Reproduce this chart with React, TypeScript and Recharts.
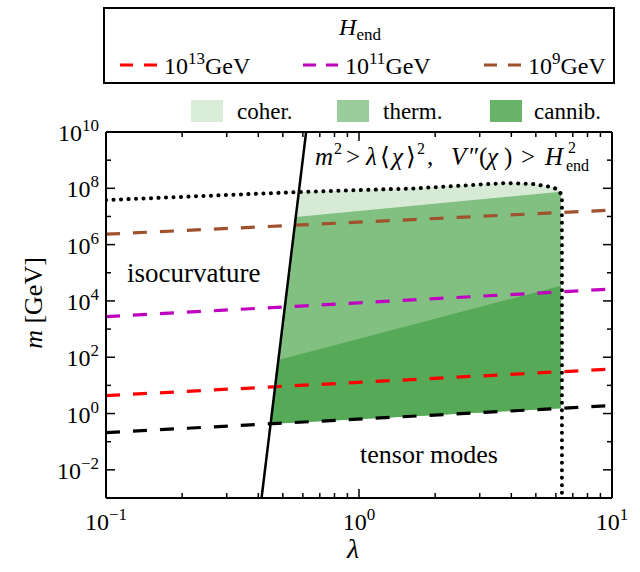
import React from "react";
import { ComposedChart, Area, Line, XAxis, YAxis } from "recharts";

const FONT = "Liberation Serif, DejaVu Serif, serif";

// axis ticks
const X_TICKS = [0.1, 0.2, 0.3, 0.4, 0.5, 0.6, 0.7, 0.8, 0.9, 1, 2, 3, 4, 5, 6, 7, 8, 9, 10];
const Y_TICKS = [1e-3, 1e-2, 1e-1, 1, 1e1, 1e2, 1e3, 1e4, 1e5, 1e6, 1e7, 1e8, 1e9, 1e10];

// dashed H_end lines (left / right end of the lambda range)
const lamEnds = [0.1, 10];
const tensorM = [0.211, 1.92];
const hend13M = [4.33, 38.1];
const hend11M = [2770, 26500];
const hend9M = [2.34e6, 1.69e7];

// solid steep boundary
const wallLam = [0.412, 0.618];
const wallM = [1e-3, 1e10];

// dotted boundary
const dotLam = [0.1, 0.581, 1.69, 3.0, 3.84, 4.87, 5.78, 6.17, 6.34, 6.34];
const dotM = [3.84e7, 7.39e7, 1.0e8, 1.36e8, 1.54e8, 1.42e8, 1.11e8, 8.7e7, 5.3e7, 1e-3];

// filled regions: lambda, lower m, upper m
const cohLam = [0.449, 0.577, 1.69, 3.0, 3.84, 4.87, 5.78, 6.17, 6.28];
const cohLo = [0.433, 0.489, 0.818, 1.08, 1.21, 1.36, 1.47, 1.52, 1.53];
const cohHi = [0.433, 7.39e7, 1.0e8, 1.36e8, 1.54e8, 1.42e8, 1.11e8, 8.7e7, 6.3e7];

const thermLam = [0.449, 0.562, 6.28];
const thermLo = [0.433, 0.483, 1.53];
const thermHi = [0.433, 9.6e6, 7.6e7];

const cannLam = [0.449, 0.48, 6.28];
const cannLo = [0.433, 0.447, 1.53];
const cannHi = [0.433, 79, 3.47e4];

const line = (xs: number[], ys: number[]) => xs.map((x, i) => ({ x, m: ys[i] }));
const band = (xs: number[], lo: number[], hi: number[]) =>
  xs.map((x, i) => ({ x, r: [lo[i], hi[i]] }));

const isMajorDecade = (v: number) => {
  const l = Math.log10(v);
  return Math.abs(l - Math.round(l)) < 1e-6;
};
const expo = (v: number) => {
  const e = Math.round(Math.log10(v));
  return e < 0 ? "\u2212" + Math.abs(e) : String(e);
};

const txt = { fontFamily: FONT, fill: "#000" };

function BottomTick(props: any) {
  const { x, y, payload } = props;
  const major = isMajorDecade(payload.value);
  return (
    <g>
      <line x1={x} x2={x} y1={y} y2={y - (major ? 9 : 5)} stroke="#000" strokeWidth={1.5} />
      {major && (
        <text x={x} y={y + 32} textAnchor="middle" style={txt} fontSize={24}>
          10
          <tspan dy={-10} fontSize={17}>
            {expo(payload.value)}
          </tspan>
        </text>
      )}
    </g>
  );
}

function TopTick(props: any) {
  const { x, y, payload } = props;
  const major = isMajorDecade(payload.value);
  return <line x1={x} x2={x} y1={y} y2={y + (major ? 9 : 5)} stroke="#000" strokeWidth={1.5} />;
}

function LeftTick(props: any) {
  const { x, y, payload } = props;
  const e = Math.round(Math.log10(payload.value));
  const major = e % 2 === 0;
  return (
    <g>
      <line x1={x} x2={x + (major ? 9 : 5)} y1={y} y2={y} stroke="#000" strokeWidth={1.5} />
      {major && (
        <text x={x - 7} y={y + 9} textAnchor="end" style={txt} fontSize={24}>
          10
          <tspan dy={-10} fontSize={17}>
            {expo(payload.value)}
          </tspan>
        </text>
      )}
    </g>
  );
}

function RightTick(props: any) {
  const { x, y, payload } = props;
  const e = Math.round(Math.log10(payload.value));
  const major = e % 2 === 0;
  return <line x1={x} x2={x - (major ? 9 : 5)} y1={y} y2={y} stroke="#000" strokeWidth={1.5} />;
}

const axisLine = { stroke: "#000", strokeWidth: 2 };

function GeV({ x, e }: { x: number; e: string }) {
  return (
    <text x={x} y={74} fontSize={24} style={txt}>
      10
      <tspan dy={-10} fontSize={17}>
        {e}
      </tspan>
      <tspan dy={10}>GeV</tspan>
    </text>
  );
}

export default function App() {
  const B = 165; // baseline of the condition text
  return (
    <div style={{ position: "absolute", left: 0, top: 0, width: 640, height: 572, background: "#fff" }}>
      <ComposedChart
        width={640}
        height={572}
        margin={{ top: 131, right: 27, bottom: 73, left: 105 }}
      >
        <XAxis
          dataKey="x"
          type="number"
          scale="log"
          domain={[0.1, 10]}
          allowDataOverflow
          ticks={X_TICKS}
          interval={0}
          height={1}
          tickSize={0}
          tickMargin={0}
          tick={(p: any) => <BottomTick {...p} />}
          axisLine={axisLine}
        />
        <XAxis
          xAxisId="top"
          orientation="top"
          dataKey="x"
          type="number"
          scale="log"
          domain={[0.1, 10]}
          allowDataOverflow
          ticks={X_TICKS}
          interval={0}
          height={1}
          tickSize={0}
          tickMargin={0}
          tick={(p: any) => <TopTick {...p} />}
          axisLine={axisLine}
        />
        <YAxis
          type="number"
          scale="log"
          domain={[1e-3, 1e10]}
          allowDataOverflow
          ticks={Y_TICKS}
          interval={0}
          width={1}
          tickSize={0}
          tickMargin={0}
          tick={(p: any) => <LeftTick {...p} />}
          axisLine={axisLine}
        />
        <YAxis
          yAxisId="right"
          orientation="right"
          type="number"
          scale="log"
          domain={[1e-3, 1e10]}
          allowDataOverflow
          ticks={Y_TICKS}
          interval={0}
          width={1}
          tickSize={0}
          tickMargin={0}
          tick={(p: any) => <RightTick {...p} />}
          axisLine={axisLine}
        />

        <Area data={band(cohLam, cohLo, cohHi)} dataKey="r" type="linear" stroke="none" fill="#d6ead6" fillOpacity={1} isAnimationActive={false} activeDot={false} />
        <Area data={band(thermLam, thermLo, thermHi)} dataKey="r" type="linear" stroke="none" fill="#82c082" fillOpacity={1} isAnimationActive={false} activeDot={false} />
        <Area data={band(cannLam, cannLo, cannHi)} dataKey="r" type="linear" stroke="none" fill="#56a956" fillOpacity={1} isAnimationActive={false} activeDot={false} />

        <Line data={line(dotLam, dotM)} dataKey="m" type="linear" stroke="#000" strokeWidth={4} strokeDasharray="0.1 7.4" strokeLinecap="round" dot={false} activeDot={false} isAnimationActive={false} />
        <Line data={line(lamEnds, tensorM)} dataKey="m" type="linear" stroke="#000" strokeWidth={3.2} strokeDasharray="14 13" dot={false} activeDot={false} isAnimationActive={false} />
        <Line data={line(lamEnds, hend13M)} dataKey="m" type="linear" stroke="#ff0000" strokeWidth={3.2} strokeDasharray="14 13" dot={false} activeDot={false} isAnimationActive={false} />
        <Line data={line(lamEnds, hend11M)} dataKey="m" type="linear" stroke="#bf00bf" strokeWidth={3.2} strokeDasharray="14 13" dot={false} activeDot={false} isAnimationActive={false} />
        <Line data={line(lamEnds, hend9M)} dataKey="m" type="linear" stroke="#a0522d" strokeWidth={3.2} strokeDasharray="14 13" dot={false} activeDot={false} isAnimationActive={false} />
        <Line data={line(wallLam, wallM)} dataKey="m" type="linear" stroke="#000" strokeWidth={2.5} dot={false} activeDot={false} isAnimationActive={false} />
      </ComposedChart>

      <svg
        width={640}
        height={572}
        style={{ position: "absolute", left: 0, top: 0, pointerEvents: "none", fontFamily: FONT }}
      >
        {/* H_end legend */}
        <rect x={104} y={8} width={510} height={75} fill="#fff" stroke="#000" strokeWidth={2} />
        <text x={360} y={35} fontSize={24} textAnchor="middle" style={txt}>
          <tspan fontStyle="italic">H</tspan>
          <tspan dy={5} fontSize={17}>end</tspan>
        </text>
        <line x1={120} x2={157} y1={65} y2={65} stroke="#ff0000" strokeWidth={3.2} strokeDasharray="13 11" />
        <GeV x={164} e="13" />
        <line x1={303} x2={338} y1={65} y2={65} stroke="#bf00bf" strokeWidth={3.2} strokeDasharray="13 10" />
        <GeV x={345} e="11" />
        <line x1={484} x2={521} y1={65} y2={65} stroke="#a0522d" strokeWidth={3.2} strokeDasharray="13 11" />
        <GeV x={528} e="9" />

        {/* region legend */}
        <rect x={191} y={100} width={32} height={22} fill="#d8ecd8" />
        <text x={237} y={119} fontSize={23} style={txt}>coher.</text>
        <rect x={337} y={100} width={32} height={22} fill="#9bcc9b" />
        <text x={383} y={119} fontSize={23} style={txt}>therm.</text>
        <rect x={490} y={100} width={32} height={22} fill="#67b367" />
        <text x={534} y={119} fontSize={23} style={txt}>cannib.</text>

        {/* annotations */}
        <text x={127} y={282} fontSize={27} style={txt}>isocurvature</text>
        <text x={360} y={463} fontSize={26} style={txt}>tensor modes</text>
        <text fontSize={25} style={txt}>
          <tspan x={315} y={B} fontStyle="italic">m</tspan>
          <tspan x={334} y={B - 11} fontSize={16}>2</tspan>
          <tspan x={346} y={B}>{">"}</tspan>
          <tspan x={366} y={B} fontStyle="italic">λ</tspan>
          <tspan x={380} y={B}>⟨</tspan>
          <tspan x={392} y={B} fontStyle="italic">χ</tspan>
          <tspan x={406} y={B}>⟩</tspan>
          <tspan x={417} y={B - 11} fontSize={16}>2</tspan>
          <tspan x={427} y={B}>,</tspan>
          <tspan x={451} y={B} fontStyle="italic">V</tspan>
          <tspan x={469} y={B}>″</tspan>
          <tspan x={479} y={B}>(</tspan>
          <tspan x={487} y={B} fontStyle="italic">χ</tspan>
          <tspan x={504} y={B}>)</tspan>
          <tspan x={521} y={B}>{">"}</tspan>
          <tspan x={545} y={B} fontStyle="italic">H</tspan>
          <tspan x={568} y={B - 12} fontSize={16}>2</tspan>
          <tspan x={566} y={B + 6} fontSize={16}>end</tspan>
        </text>

        {/* axis titles */}
        <text x={353} y={558} fontSize={28} fontStyle="italic" textAnchor="middle" style={txt}>λ</text>
        <text x={0} y={0} fontSize={26} textAnchor="middle" transform="translate(42 303) rotate(-90)" style={txt}>
          <tspan fontStyle="italic">m</tspan> [GeV]
        </text>
      </svg>
    </div>
  );
}
